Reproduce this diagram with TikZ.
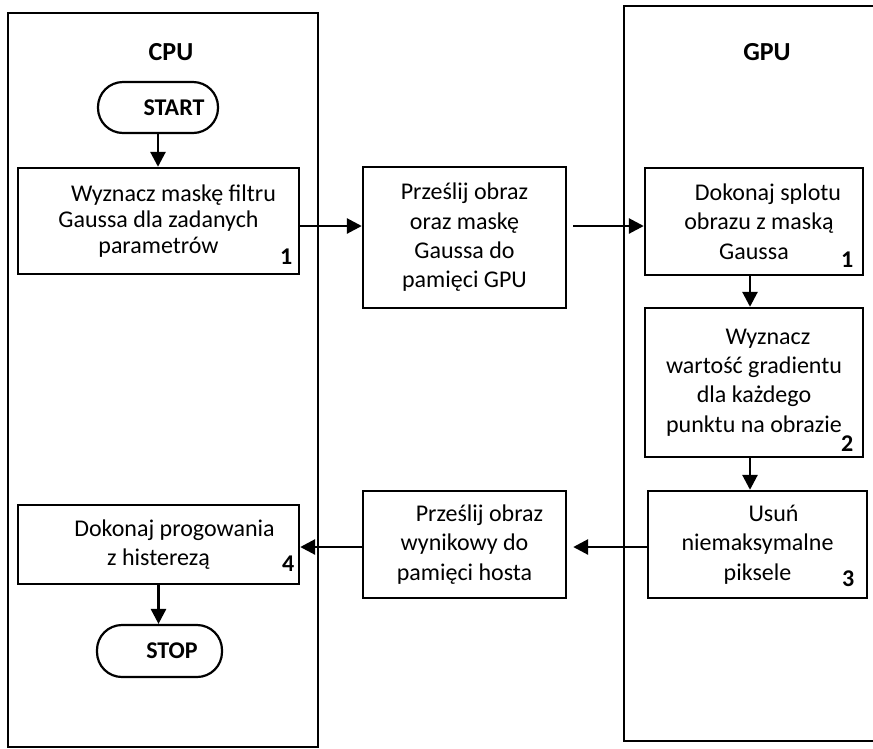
\documentclass[tikz,border=0pt]{standalone}
\usepackage{fontspec}
\setmainfont{Carlito}
\usetikzlibrary{arrows.meta}
\begin{document}
\begin{tikzpicture}[x=1pt,y=-1pt,
  lane/.style={draw,line width=2.2pt,inner sep=0pt},
  box/.style={draw,line width=2.4pt,inner sep=0pt,align=center,font=\fontsize{24}{29.3}\selectfont},
  term/.style={draw,line width=2.2pt,inner sep=0pt,rounded corners=25pt,font=\bfseries\fontsize{24}{29}\selectfont},
  title/.style={font=\bfseries\fontsize{26}{30}\selectfont},
  num/.style={font=\bfseries\fontsize{24}{28}\selectfont,inner sep=0pt},
  arr/.style={line width=2.8pt,-{Triangle[length=15pt,width=15pt]}}]
\useasboundingbox (0,0) rectangle (873,748);
\clip (0,0) rectangle (873,748);
% lanes
\node[lane,minimum width=310pt,minimum height=734pt] (cpul) at (163,380) {};
\node[lane,minimum width=256pt,minimum height=735pt] (gpul) at (752,373.5) {};
\node[title] (cput) at (171,52) {CPU};
\node[title] (gput) at (767,52) {GPU};
% terminals
\node[term,minimum width=120pt,minimum height=51pt] (start) at (158,107.5) {\hspace*{32pt}START};
\node[term,minimum width=125pt,minimum height=52pt] (stop) at (159.5,651) {\hspace*{25pt}STOP};
% boxes
\node[box,font=\fontsize{24}{26}\selectfont,minimum width=281pt,minimum height=106pt] (b1) at (158.5,221)
  {\hspace*{30pt}Wyznacz maskę filtru\\Gaussa dla zadanych\\parametrów};
\node[box,minimum width=203pt,minimum height=141pt] (m1) at (464.5,237.5)
  {Prześlij obraz\\oraz maskę\\Gaussa do\\pamięci GPU};
\node[box,minimum width=218pt,minimum height=107pt] (g1) at (754,221.5)
  {\hspace*{28pt}Dokonaj splotu\\\hspace*{10pt}obrazu z maską\\Gaussa};
\node[box,minimum width=218pt,minimum height=149pt] (g2) at (754,382.5)
  {\hspace*{28pt}Wyznacz\\wartość gradientu\\dla każdego\\punktu na obrazie};
\node[box,minimum width=219pt,minimum height=107pt] (g3) at (757.5,544.5)
  {\hspace*{32pt}Usuń\\niemaksymalne\\piksele};
\node[box,minimum width=203pt,minimum height=107pt] (m2) at (464.5,544.5)
  {\hspace*{30pt}Prześlij obraz\\wynikowy do\\pamięci hosta};
\node[box,minimum width=281pt,minimum height=79pt] (b4) at (158.5,544.5)
  {\hspace*{32pt}Dokonaj progowania\\z histerezą};
% numbers
\node[num] (n1) at ([xshift=-14pt,yshift=19pt]b1.south east) {1};
\node[num] (n1g) at ([xshift=-17pt,yshift=17pt]g1.south east) {1};
\node[num] (n2) at ([xshift=-17pt,yshift=15pt]g2.south east) {2};
\node[num] (n3) at ([xshift=-20pt,yshift=20pt]g3.south east) {3};
\node[num] (n4) at ([xshift=-12pt,yshift=21pt]b4.south east) {4};
% helper coordinates
\coordinate (ya) at (0,226);
\coordinate (yb) at (0,547);
\coordinate (m1e) at ([xshift=6pt]m1.east);
\coordinate (m2e) at ([xshift=6pt]m2.east);
\coordinate (g1s) at ([xshift=-4pt]g1.south);
\coordinate (g2s) at ([xshift=-4pt]g2.south);
% arrows
\draw[arr] (start.south) -- (start.south |- b1.north);
\draw[arr] (b1.east |- ya) -- (m1.west |- ya);
\draw[arr] (m1e |- ya) -- (g1.west |- ya);
\draw[arr] (g1s) -- (g1s |- g2.north);
\draw[arr] (g2s) -- (g2s |- g3.north);
\draw[arr] (g3.west |- yb) -- (m2e |- yb);
\draw[arr] (m2.west |- yb) -- (b4.east |- yb);
\draw[arr] (b4.south) -- (b4.south |- stop.north);
\end{tikzpicture}
\end{document}
